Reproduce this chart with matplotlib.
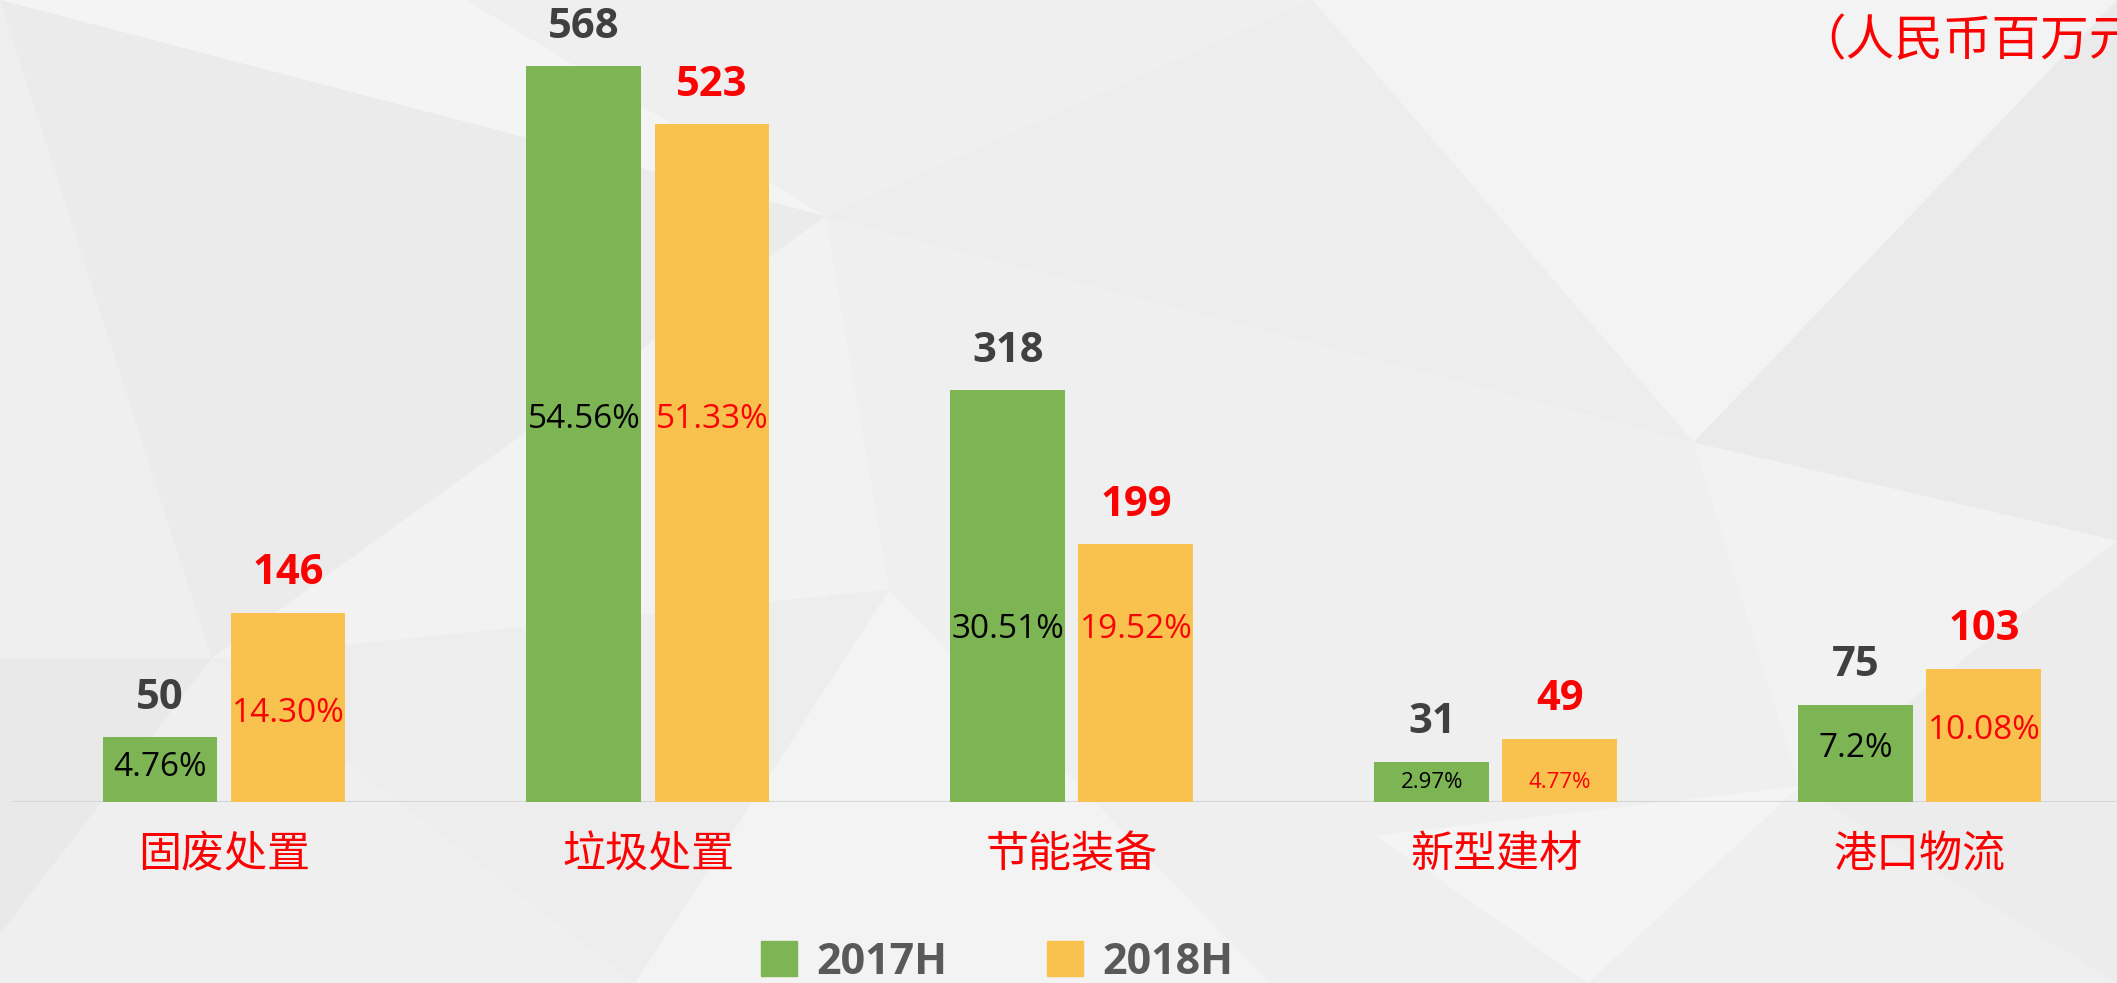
import matplotlib.pyplot as plt
from matplotlib.patches import Polygon, Patch
import numpy as np

# data
categories = ["固废处置", "垃圾处置", "节能装备", "新型建材", "港口物流"]
values_2017 = [50, 568, 318, 31, 75]
values_2018 = [146, 523, 199, 49, 103]
share_2017 = ["4.76%", "54.56%", "30.51%", "2.97%", "7.2%"]
share_2018 = ["14.30%", "51.33%", "19.52%", "4.77%", "10.08%"]

# where the share labels sit (data units), as placed in the original slide
share_y_2017 = [27, 295, 133, 15, 41]
share_y_2018 = [68, 295, 133, 15, 55]
share_size = [24, 24, 24, 16, 24]

GREEN = "#7DB454"
ORANGE = "#F9C24F"
DARK = "#404040"
RED = "#FF0000"
BG = "#EFEFEF"

plt.rcParams['font.family'] = ['Open Sans', 'Noto Sans CJK SC', 'DejaVu Sans']


def main():
	fig = plt.figure(figsize=(21.17, 9.83), dpi=100)
	fig.patch.set_facecolor(BG)

	# faint low-poly backdrop
	tris = [
		([(0, 1), (0.39, 0.78), (0.22, 1)], "#F4F4F4"),
		([(0, 1), (0.39, 0.78), (0.1, 0.33)], "#EBEBEB"),
		([(0.1, 0.33), (0.39, 0.78), (0.42, 0.4)], "#F2F2F2"),
		([(0, 0.33), (0.1, 0.33), (0, 0.05)], "#E9E9E9"),
		([(0.1, 0.33), (0.42, 0.4), (0.3, 0)], "#EDEDED"),
		([(0.42, 0.4), (0.6, 0.0), (0.3, 0)], "#F3F3F3"),
		([(0.39, 0.78), (0.62, 1), (0.8, 0.55)], "#EDEDED"),
		([(0.62, 1), (0.8, 0.55), (1, 1)], "#F3F3F3"),
		([(0.8, 0.55), (1, 1), (1, 0.45)], "#EAEAEA"),
		([(0.8, 0.55), (1, 0.45), (0.85, 0.2)], "#F2F2F2"),
		([(0.85, 0.2), (1, 0.45), (1, 0)], "#ECECEC"),
		([(0.42, 0.4), (0.8, 0.55), (0.65, 0.15)], "#EFEFEF"),
		([(0.65, 0.15), (0.85, 0.2), (0.75, 0)], "#F4F4F4"),
	]
	for pts, c in tris:
		fig.add_artist(Polygon(pts, closed=True, transform=fig.transFigure,
							   facecolor=c, edgecolor="none", zorder=-10))

	ax = fig.add_axes([12 / 2117, 181 / 983, 1 - 12 / 2117, 802 / 983])
	ax.set_facecolor("none")

	x = np.arange(len(categories))
	w = 0.271
	off = 0.151
	ax.bar(x - off, values_2017, w, color=GREEN, zorder=2)
	ax.bar(x + off, values_2018, w, color=ORANGE, zorder=2)

	for i in range(len(categories)):
		ax.annotate(str(values_2017[i]), (x[i] - off, values_2017[i]), xytext=(0, 28),
					textcoords="offset points", ha="center", va="center",
					fontsize=30, fontweight="bold", color=DARK)
		ax.annotate(str(values_2018[i]), (x[i] + off, values_2018[i]), xytext=(0, 28),
					textcoords="offset points", ha="center", va="center",
					fontsize=30, fontweight="bold", color=RED)
		ax.text(x[i] - off, share_y_2017[i], share_2017[i], ha="center", va="center",
				fontsize=share_size[i], color="black")
		ax.text(x[i] + off, share_y_2018[i], share_2018[i], ha="center", va="center",
				fontsize=share_size[i], color=RED)
		ax.text(x[i], -41, categories[i], ha="center", va="center", fontsize=31,
				color=RED, family=['Noto Sans CJK SC'])

	ax.set_xlim(-0.5, 4.465)
	ax.set_ylim(0, 619)
	ax.axhline(0, color="#D6D6D6", lw=1.5, zorder=1)
	ax.axis("off")

	fig.text(1797 / 2117, 1 - 42 / 983, "（人民币百万元）", ha="left", va="center",
			 fontsize=35, color=RED, family=['Noto Sans CJK SC'])

	handles = [Patch(color=GREEN), Patch(color=ORANGE)]
	leg = fig.legend(handles, ["2017H", "2018H"], loc="center", ncol=2,
					 bbox_to_anchor=(0.471, 1 - 962 / 983), frameon=False,
					 handlelength=0.85, handleheight=0.85, handletextpad=0.45,
					 columnspacing=2.3, prop={'size': 31, 'weight': 'bold'})
	for t in leg.get_texts():
		t.set_color("#595959")

	fig.savefig("out.png", dpi=100, facecolor=fig.get_facecolor())


if __name__ == "__main__":
	main()
